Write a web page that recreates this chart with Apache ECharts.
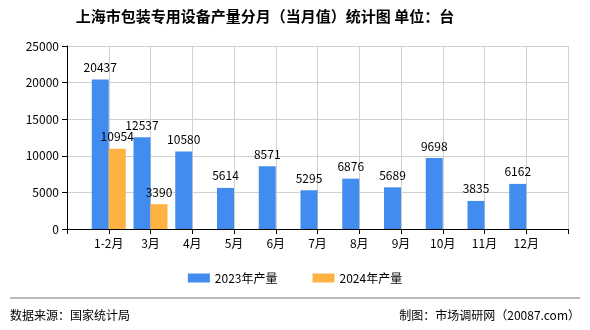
<!DOCTYPE html>
<html>
<head>
<meta charset="utf-8">
<script src="https://cdn.jsdelivr.net/npm/echarts@6/dist/echarts.min.js"></script>
<style>
  html, body { margin: 0; padding: 0; background: #fff; }
  #chart { width: 590px; height: 330px; }
</style>
</head>
<body>
<div id="chart"></div>
<script>
// Monthly output of packaging equipment in Shanghai (units)
const months = ['1-2月', '3月', '4月', '5月', '6月', '7月', '8月', '9月', '10月', '11月', '12月'];
const output2023 = [20437, 12537, 10580, 5614, 8571, 5295, 6876, 5689, 9698, 3835, 6162];
const output2024 = [10954, 3390, null, null, null, null, null, null, null, null, null];
const yTicks = [0, 5000, 10000, 15000, 20000, 25000];

// padded with blank slots at both ends so each month sits on a tick
const cats = [''].concat(months, ['']);
const pad = arr => [null].concat(arr, [null]);

const font = '"Noto Sans CJK SC", "DejaVu Sans", sans-serif';
const chart = echarts.init(document.getElementById('chart'), null, { renderer: 'canvas' });

chart.setOption({
  animation: false,
  textStyle: { fontFamily: font },
  title: {
    text: '上海市包装专用设备产量分月（当月值）统计图 单位：台',
    left: 260,
    top: 4,
    textAlign: 'center',
    textStyle: { fontSize: 15, fontWeight: 'bold', color: '#000', fontFamily: font }
  },
  grid: { left: 67, right: 22, top: 46, bottom: 101 },
  legend: {
    bottom: 41,
    left: 'center',
    itemWidth: 22,
    itemHeight: 9,
    itemGap: 35,
    icon: 'rect',
    textStyle: { fontSize: 12, color: '#000', fontFamily: font },
    data: ['2023年产量', '2024年产量']
  },
  xAxis: {
    type: 'category',
    data: cats,
    boundaryGap: false,
    axisLine: { lineStyle: { color: '#000' } },
    axisTick: { lineStyle: { color: '#000' } },
    axisLabel: { color: '#000', fontSize: 12, interval: 0, margin: 8 },
    splitLine: { show: true, lineStyle: { color: '#d0d0d0' } }
  },
  yAxis: {
    type: 'value',
    min: yTicks[0],
    max: yTicks[yTicks.length - 1],
    interval: yTicks[1] - yTicks[0],
    axisLine: { show: true, lineStyle: { color: '#000' } },
    axisTick: { show: true, lineStyle: { color: '#000' } },
    axisLabel: { color: '#000', fontSize: 12, formatter: v => String(v) },
    splitLine: { lineStyle: { color: '#d0d0d0' } }
  },
  series: [
    {
      name: '2023年产量',
      type: 'bar',
      data: pad(output2023),
      barWidth: 17,
      barGap: '0%',
      itemStyle: { color: '#418cee' },
      label: { show: true, position: 'top', color: '#000', fontSize: 12, distance: 6 }
    },
    {
      name: '2024年产量',
      type: 'bar',
      data: pad(output2024),
      barWidth: 17,
      barGap: '0%',
      itemStyle: { color: '#fdb242' },
      label: { show: true, position: 'top', color: '#000', fontSize: 12, distance: 6 }
    }
  ],
  graphic: [
    { type: 'line', shape: { x1: 10, y1: 298, x2: 580, y2: 298 }, style: { stroke: '#777', lineWidth: 1 } },
    { type: 'text', left: 10, top: 309, style: { text: '数据来源：国家统计局', fill: '#000', font: '12px ' + font } },
    { type: 'text', right: 10, top: 309, style: { text: '制图：市场调研网（20087.com）', fill: '#000', font: '12px ' + font } }
  ]
});
</script>
</body>
</html>
